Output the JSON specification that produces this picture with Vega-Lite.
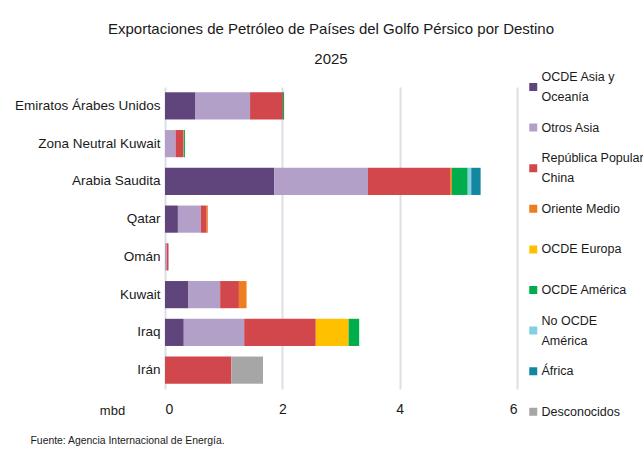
{
  "$schema": "https://vega.github.io/schema/vega-lite/v6.json",
  "autosize": {"type": "none"},
  "width": 352,
  "height": 302,
  "padding": {"left": 165, "top": 87, "right": 126, "bottom": 64},
  "background": "white",
  "title": {
    "text": ["Exportaciones de Petróleo de Países del Golfo Pérsico por Destino", "2025"],
    "anchor": "middle",
    "frame": "group",
    "dx": -10,
    "offset": 5,
    "fontSize": 15,
    "fontWeight": "normal",
    "lineHeight": 30,
    "color": "#1a1a1a"
  },
  "data": {
    "values": [
      {"pais": "Emiratos Árabes Unidos", "destino": "OCDE Asia y Oceanía", "orden": 1, "valor": 0.52},
      {"pais": "Emiratos Árabes Unidos", "destino": "Otros Asia", "orden": 2, "valor": 0.93},
      {"pais": "Emiratos Árabes Unidos", "destino": "República Popular China", "orden": 3, "valor": 0.56},
      {"pais": "Emiratos Árabes Unidos", "destino": "OCDE América", "orden": 6, "valor": 0.02},
      {"pais": "Zona Neutral Kuwait", "destino": "Otros Asia", "orden": 2, "valor": 0.18},
      {"pais": "Zona Neutral Kuwait", "destino": "República Popular China", "orden": 3, "valor": 0.13},
      {"pais": "Zona Neutral Kuwait", "destino": "Oriente Medio", "orden": 4, "valor": 0.01},
      {"pais": "Zona Neutral Kuwait", "destino": "OCDE América", "orden": 6, "valor": 0.02},
      {"pais": "Arabia Saudita", "destino": "OCDE Asia y Oceanía", "orden": 1, "valor": 1.86},
      {"pais": "Arabia Saudita", "destino": "Otros Asia", "orden": 2, "valor": 1.6},
      {"pais": "Arabia Saudita", "destino": "República Popular China", "orden": 3, "valor": 1.4},
      {"pais": "Arabia Saudita", "destino": "Oriente Medio", "orden": 4, "valor": 0.03},
      {"pais": "Arabia Saudita", "destino": "OCDE América", "orden": 6, "valor": 0.27},
      {"pais": "Arabia Saudita", "destino": "No OCDE América", "orden": 7, "valor": 0.06},
      {"pais": "Arabia Saudita", "destino": "África", "orden": 8, "valor": 0.16},
      {"pais": "Qatar", "destino": "OCDE Asia y Oceanía", "orden": 1, "valor": 0.22},
      {"pais": "Qatar", "destino": "Otros Asia", "orden": 2, "valor": 0.39},
      {"pais": "Qatar", "destino": "República Popular China", "orden": 3, "valor": 0.1},
      {"pais": "Qatar", "destino": "Oriente Medio", "orden": 4, "valor": 0.02},
      {"pais": "Omán", "destino": "Otros Asia", "orden": 2, "valor": 0.03},
      {"pais": "Omán", "destino": "República Popular China", "orden": 3, "valor": 0.03},
      {"pais": "Kuwait", "destino": "OCDE Asia y Oceanía", "orden": 1, "valor": 0.4},
      {"pais": "Kuwait", "destino": "Otros Asia", "orden": 2, "valor": 0.54},
      {"pais": "Kuwait", "destino": "República Popular China", "orden": 3, "valor": 0.32},
      {"pais": "Kuwait", "destino": "Oriente Medio", "orden": 4, "valor": 0.13},
      {"pais": "Iraq", "destino": "OCDE Asia y Oceanía", "orden": 1, "valor": 0.32},
      {"pais": "Iraq", "destino": "Otros Asia", "orden": 2, "valor": 1.03},
      {"pais": "Iraq", "destino": "República Popular China", "orden": 3, "valor": 1.22},
      {"pais": "Iraq", "destino": "OCDE Europa", "orden": 5, "valor": 0.56},
      {"pais": "Iraq", "destino": "OCDE América", "orden": 6, "valor": 0.18},
      {"pais": "Irán", "destino": "República Popular China", "orden": 3, "valor": 1.13},
      {"pais": "Irán", "destino": "Desconocidos", "orden": 9, "valor": 0.54}
    ]
  },
  "mark": {"type": "bar"},
  "encoding": {
    "y": {
      "field": "pais",
      "type": "nominal",
      "sort": ["Emiratos Árabes Unidos", "Zona Neutral Kuwait", "Arabia Saudita", "Qatar", "Omán", "Kuwait", "Iraq", "Irán"],
      "scale": {"paddingInner": 0.28, "paddingOuter": 0.14},
      "axis": {
        "title": "mbd",
        "titleAngle": 0,
        "titleX": -53,
        "titleY": 323,
        "titleAlign": "center",
        "titleBaseline": "middle",
        "titleFontSize": 13,
        "titleFontWeight": "normal",
        "titleColor": "#1a1a1a",
        "domain": false,
        "ticks": false,
        "labelPadding": 5,
        "labelFontSize": 13.5,
        "labelColor": "#1a1a1a",
        "labelLimit": 200
      }
    },
    "x": {
      "field": "valor",
      "type": "quantitative",
      "stack": "zero",
      "scale": {"domain": [0, 6], "nice": false},
      "axis": {
        "values": [0, 2, 4, 6],
        "title": "Fuente: Agencia Internacional de Energía.",
        "titleX": -135,
        "titleY": 51,
        "titleAlign": "left",
        "titleBaseline": "middle",
        "titleFontSize": 10.4,
        "titleFontWeight": "normal",
        "titleColor": "#1a1a1a",
        "domain": false,
        "ticks": false,
        "grid": true,
        "gridColor": "#dcdfe7",
        "gridWidth": 2,
        "labelPadding": 13,
        "labelFontSize": 14,
        "labelColor": "#1a1a1a"
      }
    },
    "order": {"field": "orden", "type": "quantitative"},
    "color": {
      "field": "destino",
      "type": "nominal",
      "scale": {
        "domain": ["OCDE Asia y Oceanía", "Otros Asia", "República Popular China", "Oriente Medio", "OCDE Europa", "OCDE América", "No OCDE América", "África", "Desconocidos"],
        "range": ["#60457c", "#b3a0c9", "#d2474b", "#ee7d22", "#ffc000", "#00ad4c", "#84d0e2", "#12879f", "#a6a6a6"]
      },
      "legend": {
        "title": null,
        "orient": "none",
        "legendX": 362,
        "legendY": -15,
        "padding": 0,
        "symbolType": "square",
        "symbolSize": 64,
        "symbolStrokeWidth": 0,
        "labelFontSize": 12.5,
        "labelColor": "#1a1a1a",
        "labelOffset": 2,
        "labelLimit": 200,
        "clipHeight": 30,
        "gridAlign": "all",
        "rowPadding": 7.6,
        "labelExpr": "datum.label == 'OCDE Asia y Oceanía' ? ['OCDE Asia y', 'Oceanía'] : datum.label == 'República Popular China' ? ['República Popular', 'China'] : datum.label == 'No OCDE América' ? ['No OCDE', 'América'] : datum.label",
        "encode": {
          "labels": {
            "update": {
              "dy": {"signal": "indexof(['OCDE Asia y Oceanía', 'República Popular China', 'No OCDE América'], datum.value) >= 0 ? -10 : 0"}
            }
          }
        }
      }
    }
  },
  "config": {
    "font": "Liberation Sans, Arial, sans-serif",
    "view": {"stroke": null},
    "style": {"guide-label": {"lineHeight": 20}}
  }
}
